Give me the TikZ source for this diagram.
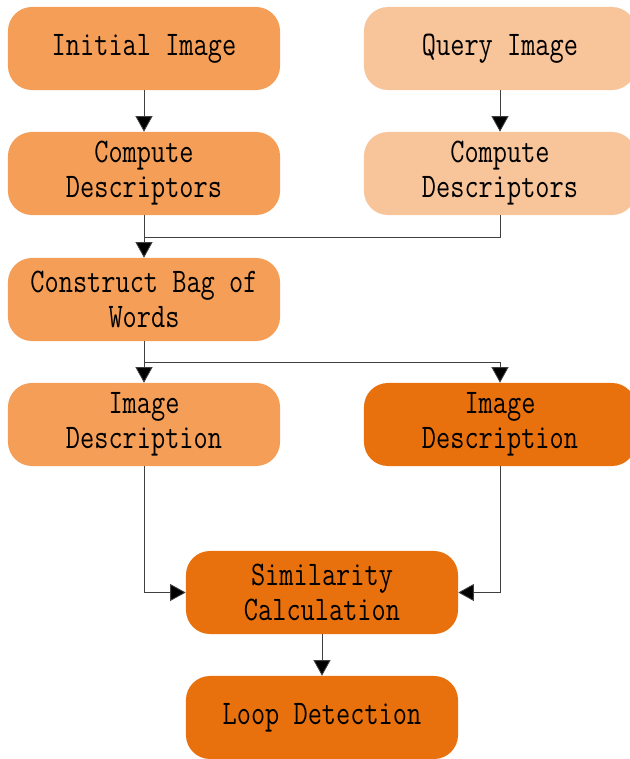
\documentclass[tikz,border=0pt]{standalone}
\usepackage{fontspec}
\setmonofont[FakeStretch=0.8]{Latin Modern Mono}
\usepackage{tikz}
\usetikzlibrary{arrows.meta}

\definecolor{lightor}{HTML}{F49E58}
\definecolor{paleor}{HTML}{F8C49A}
\definecolor{darkor}{HTML}{E8710E}
\definecolor{linegray}{HTML}{404040}

\begin{document}
\begin{tikzpicture}[x=0.025cm, y=-0.025cm]
		\tikzstyle{every node}=[rectangle, rounded corners=0.6cm, minimum width=6.8cm, minimum height=2.075cm, align=center, inner sep=0pt, font=\ttfamily\fontsize{24.5}{25}\selectfont]
		\tikzstyle{conn}=[draw=linegray, line width=0.6pt, -{Triangle[length=11pt,width=12pt,fill=black]}]
		\useasboundingbox (0,0) rectangle (630,759);
		% top row
		\node[fill=lightor] (init) at (144,48.5) {Initial Image};
		\node[fill=paleor] (query) at (500,48.5) {Query Image};
		\node[fill=lightor] (cdl) at (144,173.5) {Compute\\Descriptors};
		\node[fill=paleor] (cdr) at (500,173.5) {Compute\\Descriptors};
		\node[fill=lightor] (bow) at (144,299.5) {Construct Bag of\\Words};
		\node[fill=lightor] (idl) at (144,424.5) {Image\\Description};
		\node[fill=darkor] (idr) at (500,424.5) {Image\\Description};
		\node[fill=darkor] (sim) at (322,592.5) {Similarity\\Calculation};
		\node[fill=darkor] (loop) at (322,717.5) {Loop Detection};
		\coordinate (j1) at (144,237);
		\coordinate (j2) at (144,362);
		\draw[conn] (init) -- (cdl);
		\draw[conn] (query) -- (cdr);
		\draw[conn] (cdl) -- (bow);
		\draw[draw=linegray, line width=0.6pt] (cdr) |- (j1);
		\draw[conn] (bow) -- (idl);
		\draw[conn] (j2) -| (idr);
		\draw[conn] (idl) |- (sim);
		\draw[conn] (idr) |- (sim);
		\draw[conn] (sim) -- (loop);
	\end{tikzpicture}
\end{document}
